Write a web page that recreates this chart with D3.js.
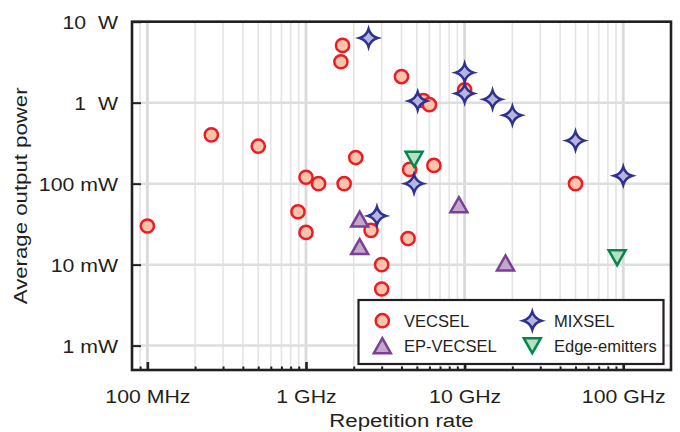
<!DOCTYPE html>
<html>
<head>
<meta charset="utf-8">
<script src="https://cdn.jsdelivr.net/npm/d3@7"></script>
<style>
  body { margin: 0; background: #fff; }
  svg { display: block; font-family: "Liberation Sans", Arial, Helvetica, sans-serif; }
</style>
</head>
<body>
<svg id="chart" width="680" height="432"></svg>
<script>
// repetition rate in GHz, average power in mW
const vecsel = [
    [0.1, 30], [0.253, 400], [0.5, 290], [0.89, 45], [1, 120], [1, 25], [1.2, 100],
    [1.74, 100], [2.06, 210], [2.57, 26.5], [3, 10], [3, 5], [4.4, 21], [4.5, 150],
    [6.4, 168], [1.7, 5100], [1.66, 3200], [4, 2100], [5.5, 1060], [6, 945],
    [10, 1440], [50, 100]
];
const epVecsel = [[2.18, 36.5], [2.18, 16.7], [9.2, 55], [18.1, 10.5]];
const mixsel = [
    [2.48, 6300], [5.06, 1050], [10, 2350], [10, 1300], [15, 1100], [20, 700],
    [50, 340], [100, 125], [4.8, 100], [2.8, 40]
];
const edgeEmitters = [[4.8, 200], [91.5, 12.2]];

const xTicks = [0.1, 1, 10, 100];
const xTickLabels = ['100 MHz', '1 GHz', '10 GHz', '100 GHz'];
const yTicks = [1, 10, 100, 1000, 10000];
const yTickLabels = ['1 mW', '10 mW', '100 mW', '1\u00a0\u00a0W', '10\u00a0\u00a0W'];

const plotLeft = 132, plotRight = 671, plotTop = 21.7, plotBottom = 370;
const ink = '#231f20';

const svg = d3.select('#chart');
const x = d3.scaleLog().domain([0.08, 200]).range([plotLeft, plotRight]);
const y = d3.scaleLog().domain([0.5, 10000]).range([plotBottom, plotTop]);

// minor values 1..9 per decade
let minor = [];
[0.01, 0.1, 1, 10, 100].forEach(d => {
    for (let k = 1; k <= 9; k++) {
        let v = k * d;
        if (v > 0.0801 && v < 199) minor.push(v);
    }
});

let grid = svg.append('g');
grid.selectAll('.vgrid')
    .data(minor)
    .enter().append('line')
    .attr('x1', d => x(d)).attr('x2', d => x(d))
    .attr('y1', plotTop).attr('y2', plotBottom)
    .attr('stroke', d => xTicks.includes(d) ? '#dadada' : '#e4e4e4')
    .attr('stroke-width', d => xTicks.includes(d) ? 2.8 : 1.6);
grid.selectAll('.hgrid')
    .data(yTicks)
    .enter().append('line')
    .attr('x1', plotLeft).attr('x2', plotRight)
    .attr('y1', d => y(d)).attr('y2', d => y(d))
    .attr('stroke', '#dedede')
    .attr('stroke-width', 2.5);

// axes
let xMinorAxis = svg.append('g')
    .attr('transform', `translate(0,${plotBottom})`)
    .call(d3.axisBottom(x).tickValues(minor.filter(v => !xTicks.includes(v))).tickSize(-3.5).tickFormat(''));
xMinorAxis.select('.domain').remove();
xMinorAxis.selectAll('line').attr('stroke', ink).attr('stroke-width', 2);

let xAxis = svg.append('g')
    .attr('transform', `translate(0,${plotBottom})`)
    .call(d3.axisBottom(x).tickValues(xTicks).tickSize(-8).tickFormat((d, i) => xTickLabels[i]));
xAxis.select('.domain').remove();
xAxis.selectAll('line').attr('stroke', ink).attr('stroke-width', 2.6);
xAxis.selectAll('text')
    .attr('y', 33).attr('dy', null)
    .attr('transform', 'scale(1.12,1)')
    .attr('fill', ink)
    .style('font-size', '19px');

let yAxis = svg.append('g')
    .attr('transform', `translate(${plotLeft},0)`)
    .call(d3.axisLeft(y).tickValues(yTicks).tickSize(-9).tickFormat((d, i) => yTickLabels[i]));
yAxis.select('.domain').remove();
yAxis.selectAll('line').attr('stroke', ink).attr('stroke-width', 2);
yAxis.selectAll('text')
    .attr('x', -12.5)
    .attr('dy', '0.36em')
    .attr('transform', 'scale(1.12,1)')
    .attr('fill', ink)
    .style('font-size', '19px');

svg.append('rect')
    .attr('x', plotLeft).attr('y', plotTop)
    .attr('width', plotRight - plotLeft).attr('height', plotBottom - plotTop)
    .attr('fill', 'none')
    .attr('stroke', ink)
    .attr('stroke-width', 2.6);

svg.append('text')
    .attr('transform', `translate(${(plotLeft + plotRight) / 2},426.5) scale(1.17,1)`)
    .attr('text-anchor', 'middle')
    .attr('fill', ink)
    .style('font-size', '19px')
    .text('Repetition rate');
svg.append('text')
    .attr('transform', `translate(26.5,${(plotTop + plotBottom) / 2}) rotate(-90) scale(1.17,1)`)
    .attr('text-anchor', 'middle')
    .attr('fill', ink)
    .style('font-size', '19px')
    .text('Average output power');

// marker shapes
function starPath(R, k) {
    return `M0,${-R} Q${k},${-k} ${R},0 Q${k},${k} 0,${R} Q${-k},${k} ${-R},0 Q${-k},${-k} 0,${-R}Z`;
}
function triPath(w, h, down) {
    let s = down ? -1 : 1;
    return `M0,${-s * h / 2} L${w / 2},${s * h / 2} L${-w / 2},${s * h / 2}Z`;
}

const styles = {
    vecsel: { fill: '#f9c4ab', stroke: '#ec1c24' },
    ep: { fill: '#c2a8cb', stroke: '#7b3f96' },
    mix: { fill: '#b5b5dd', stroke: '#2e3192' },
    edge: { fill: '#b8dfc4', stroke: '#00894a' }
};

function drawMarker(g, kind, px, py) {
    let st = styles[kind];
    let el;
    if (kind == 'vecsel') {
        el = g.append('circle').attr('cx', px).attr('cy', py).attr('r', 6.6);
    } else {
        let d = kind == 'mix' ? starPath(9, 2)
            : triPath(17, 15, kind == 'edge');
        el = g.append('path').attr('d', d).attr('transform', `translate(${px},${py})`);
    }
    el.attr('fill', st.fill)
        .attr('stroke', st.stroke)
        .attr('stroke-width', 2.5)
        .attr('stroke-linejoin', 'miter');
}

let marks = svg.append('g');
vecsel.forEach(p => drawMarker(marks, 'vecsel', x(p[0]), y(p[1])));
epVecsel.forEach(p => drawMarker(marks, 'ep', x(p[0]), y(p[1])));
mixsel.forEach(p => drawMarker(marks, 'mix', x(p[0]), y(p[1])));
edgeEmitters.forEach(p => drawMarker(marks, 'edge', x(p[0]), y(p[1])));

// legend
let legend = svg.append('g');
legend.append('rect')
    .attr('x', 358.5).attr('y', 300)
    .attr('width', 305).attr('height', 64)
    .attr('fill', '#fff')
    .attr('stroke', ink)
    .attr('stroke-width', 2.2);
const legendItems = [
    ['vecsel', 'VECSEL', 382.3, 320.7],
    ['ep', 'EP-VECSEL', 382.3, 345.7],
    ['mix', 'MIXSEL', 532.3, 320.7],
    ['edge', 'Edge-emitters', 532.3, 345.7]
];
legendItems.forEach(item => {
    drawMarker(legend, item[0], item[2], item[3]);
    legend.append('text')
        .attr('x', item[2] + 21.7)
        .attr('y', item[3])
        .attr('dy', '0.36em')
        .attr('fill', ink)
        .style('font-size', '16.5px')
        .text(item[1]);
});
</script>
</body>
</html>
